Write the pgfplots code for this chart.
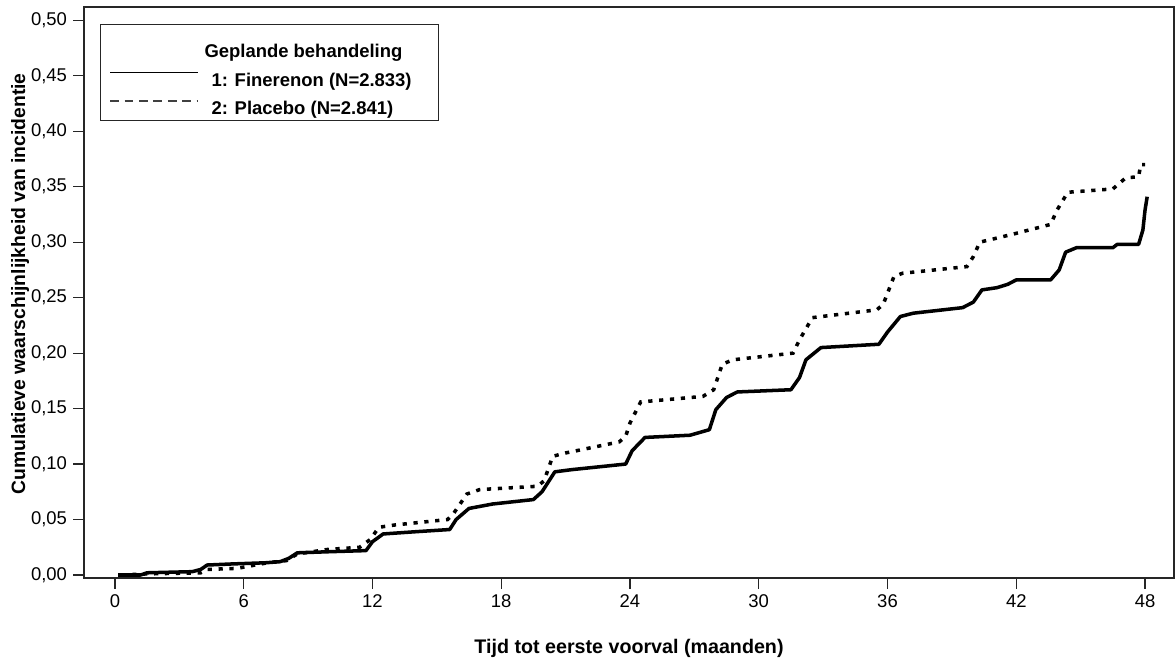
\documentclass[border=0pt]{standalone}
\usepackage{fontspec}
\setmainfont{Liberation Sans}
\usepackage{pgfplots}
\pgfplotsset{compat=1.18}

\begin{document}
\fontsize{10.5}{12.6}\selectfont
\begin{tikzpicture}
\begin{axis}[
    name=ax,
    scale only axis, width=21.8cm, height=11.42cm,
    xmin=-1.44, xmax=49.35, ymin=-0.0027, ymax=0.512,
    xtick={0,6,12,18,24,30,36,42,48},
    ytick={0,0.05,0.10,0.15,0.20,0.25,0.30,0.35,0.40,0.45,0.50},
    /pgf/number format/assume math mode=true,
    yticklabel style={/pgf/number format/.cd, use comma, fixed, fixed zerofill, precision=2},
    tick pos=left, tick align=outside, major tick length=0.21cm,
    tick style={black!85, line width=0.7pt},
    axis line style={black!85, line width=0.7pt},
    xlabel={Tijd tot eerste voorval (maanden)},
    ylabel={Cumulatieve waarschijnlijkheid van incidentie},
    xlabel style={font=\fontsize{11.2}{13}\selectfont\bfseries, at={(axis description cs:0.5,-0.1226)}, anchor=center},
    ylabel style={font=\fontsize{11}{13}\selectfont\bfseries, at={(axis description cs:-0.0587,0.515)}, anchor=center},
    legend cell align=left,
    legend style={at={(axis description cs:0.0147,0.970)}, anchor=north west,
        draw=black!85, line width=0.7pt, font=\bfseries,
        inner xsep=0.18cm, inner ysep=0cm, row sep=0.1cm},
]
\addlegendimage{empty legend}
\addlegendentry{\rule[-9.5pt]{0pt}{26.4pt}\hspace*{-0.14cm}Geplande behandeling}

% Finerenon
\addplot[black, line width=2pt, line join=round,
    legend image code/.code={\draw[black, line width=0.7pt] (0,0.16cm) -- (1.76cm,0.16cm); \path (1.92cm,0.16cm);}]
coordinates {
(0.15,0) (1.2,0) (1.5,0.002) (3.6,0.003) (4.0,0.005) (4.3,0.009) (5.5,0.010) (7.0,0.011)
(7.7,0.012) (8.1,0.015) (8.5,0.020) (10,0.021) (11.7,0.022) (12.0,0.030) (12.5,0.037)
(14,0.039) (15.6,0.041) (15.9,0.050) (16.5,0.060) (17.6,0.064) (19.5,0.068) (19.9,0.075)
(20.5,0.093) (21.3,0.095) (23.8,0.100) (24.1,0.112) (24.7,0.124) (26.8,0.126) (27.7,0.131)
(28.0,0.149) (28.5,0.160) (29.0,0.165) (31.5,0.167) (31.9,0.178) (32.2,0.194) (32.9,0.205)
(35.6,0.208) (36.0,0.219) (36.6,0.233) (37.2,0.236) (39.5,0.241) (40.0,0.246) (40.4,0.257)
(41.1,0.259) (41.6,0.262) (42.0,0.266) (43.6,0.266) (44.0,0.275) (44.3,0.291) (44.8,0.295)
(46.5,0.295) (46.7,0.298) (47.7,0.298) (47.9,0.311) (48.0,0.329) (48.1,0.341)
};
\addlegendentry{1: Finerenon (N=2.833)\hspace*{0.28cm}}

% Placebo
\addplot[black, line width=2pt, dash pattern=on 2.4pt off 3.8pt,
    legend image code/.code={\draw[black!75, line width=0.7pt, dash pattern=on 5pt off 3.2pt] (0,0.16cm) -- (1.76cm,0.16cm); \path (1.92cm,0.16cm);}]
coordinates {
(0.3,0) (1.5,0.001) (4.0,0.002) (4.3,0.005) (5.7,0.006) (7.1,0.011) (8.0,0.013) (8.5,0.019)
(9.9,0.023) (11.4,0.025) (11.9,0.032) (12.3,0.043) (13,0.045) (15.5,0.050) (15.8,0.056)
(16.4,0.073) (17.0,0.077) (19.7,0.080) (20.0,0.085) (20.4,0.107) (21.0,0.110) (23.5,0.120)
(23.8,0.125) (24.0,0.137) (24.5,0.156) (27.4,0.161) (27.9,0.167) (28.3,0.190) (28.8,0.194)
(31.6,0.200) (31.9,0.212) (32.5,0.232) (35.5,0.239) (35.8,0.244) (36.3,0.269) (36.7,0.272)
(39.7,0.278) (40.0,0.287) (40.3,0.300) (41.8,0.307) (43.6,0.316) (43.9,0.329) (44.4,0.345)
(46.5,0.348) (47.1,0.358) (47.7,0.359) (47.8,0.370) (48.0,0.370)
};
\addlegendentry{2: Placebo (N=2.841)}
\end{axis}
\pgfresetboundingbox
\path[use as bounding box] ([xshift=-1.68cm,yshift=-1.66cm]ax.south west) rectangle ([xshift=0.04cm,yshift=0.14cm]ax.north east);
\end{tikzpicture}
\end{document}
